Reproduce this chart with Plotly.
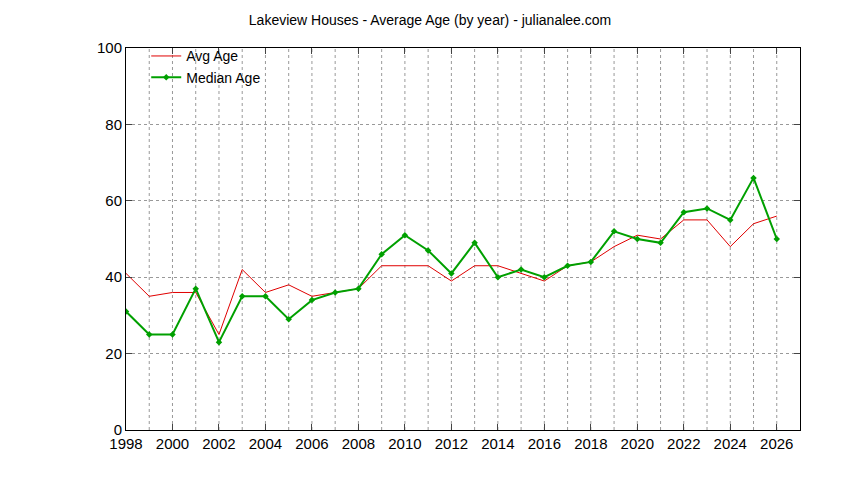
import plotly.graph_objects as go

years = list(range(1998, 2027))
avg_age = [41,35,36,36,25,42,36,38,35,36,37,43,43,43,39,43,43,41,39,43,44,48,51,50,55,55,48,54,56]
median_age = [31,25,25,37,23,35,35,29,34,36,37,46,51,47,41,49,40,42,40,43,44,52,50,49,57,58,55,66,50]

fig = go.Figure()
fig.add_trace(go.Scatter(x=years, y=avg_age, mode="lines", name="Avg Age",
                         line=dict(color="#e00000", width=1)))
fig.add_trace(go.Scatter(x=years, y=median_age, mode="lines+markers", name="Median Age",
                         line=dict(color="#00a000", width=2),
                         marker=dict(symbol="diamond", size=5, color="#00a000")))
fig.update_layout(
    width=844, height=480, plot_bgcolor="white", paper_bgcolor="white",
    margin=dict(l=118, r=52, t=40, b=58),
    font=dict(family="Liberation Sans, Arial", size=15, color="black"),
    title=dict(text="Lakeview Houses - Average Age (by year) - julianalee.com",
               x=0.5, xanchor="center", y=0.985, font=dict(size=14)),
    legend=dict(x=0.03, y=1.02, xanchor="left", yanchor="top", bgcolor="rgba(0,0,0,0)",
                font=dict(size=14), tracegroupgap=0),
    showlegend=True,
)
fig.update_xaxes(range=[1998, 2027], tickmode="array", tickvals=list(range(1998, 2027, 2)),
                 showgrid=False, showline=True, linecolor="black", mirror="ticks",
                 ticks="inside", ticklen=6, zeroline=False, automargin=False)
fig.update_yaxes(range=[0, 100], dtick=20, showgrid=True, gridcolor="#999", griddash="dot",
                 showline=True, linecolor="black", mirror="ticks", ticks="inside", ticklen=6,
                 zeroline=False, automargin=False)
for yr in range(1999, 2027):
    fig.add_shape(type="line", x0=yr, x1=yr, y0=0, y1=100, xref="x", yref="y",
                  line=dict(color="#999", width=1, dash="dot"), layer="below")
fig.write_html("out.html")
